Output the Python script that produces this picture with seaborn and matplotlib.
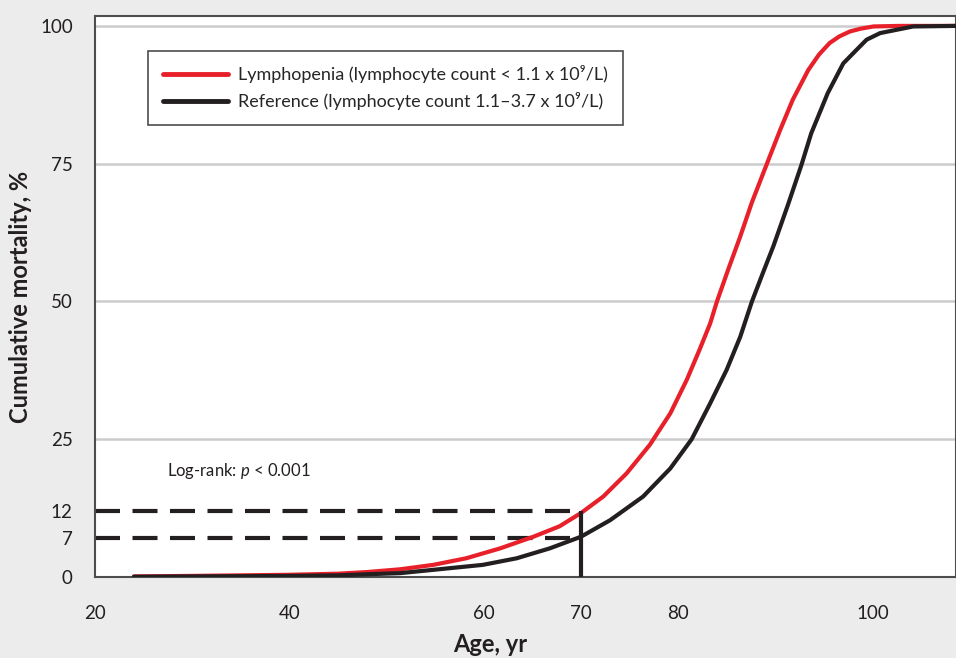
import matplotlib
matplotlib.use("Agg")
import matplotlib.pyplot as plt
import seaborn as sns
import pandas as pd

# cumulative mortality
lympho_age = [24, 30, 35, 40, 45, 48, 51.4, 54.8, 58.2, 61.7, 65.1, 67.8, 70,
              72.3, 74.7, 77.1, 79.2, 80.9, 82.2, 83.3, 84.0, 85.2, 86.4, 87.6,
              89.1, 90.5, 91.8, 93.4, 94.5, 95.6, 96.6, 97.7, 98.8, 100.1, 102.8,
              108.6]
lympho_mort = [0.1, 0.2, 0.3, 0.4, 0.6, 0.9, 1.4, 2.2, 3.4, 5.2, 7.3, 9.2, 11.6,
               14.6, 18.8, 24, 29.7, 35.8, 41.2, 46, 50, 56, 61.8, 68,
               74.8, 81.1, 86.6, 92, 94.8, 96.9, 98.1, 99.0, 99.5, 99.9, 100,
               100]
ref_age = [24, 30, 40, 45, 48, 51.4, 54.8, 59.9, 63.4, 66.8, 70, 73.0, 76.4,
           79.2, 81.4, 83.3, 85.0, 86.4, 87.6, 88.8, 89.8, 91.3, 92.7, 93.7,
           95.4, 97.0, 98.0, 99.4, 100.8, 102.5, 104.2, 108.6]
ref_mort = [0.05, 0.1, 0.2, 0.3, 0.5, 0.7, 1.3, 2.2, 3.4, 5.2, 7.3, 10.3, 14.6,
            19.7, 25, 31.5, 37.6, 43.6, 50, 55.5, 60, 67.5, 74.8, 80.5,
            87.8, 93.2, 95.0, 97.5, 98.7, 99.3, 99.9, 100]

labels = ["Lymphopenia (lymphocyte count < 1.1 x 10\u2079/L)",
          "Reference (lymphocyte count 1.1\u20133.7 x 10\u2079/L)"]
colors = ["#e8202a", "#231f20"]

marker_age = 70
marker_vals = [12, 7]
xticks = [20, 40, 60, 70, 80, 100]
yticks = [0, 7, 12, 25, 50, 75, 100]
grid_vals = [25, 50, 75, 100]

df = pd.concat([
    pd.DataFrame({"age": lympho_age, "mort": lympho_mort, "group": labels[0]}),
    pd.DataFrame({"age": ref_age, "mort": ref_mort, "group": labels[1]}),
])

sns.set_style("white")
plt.rcParams["font.family"] = ["Lato", "DejaVu Sans"]
plt.rcParams["mathtext.fontset"] = "custom"
plt.rcParams["mathtext.rm"] = "Lato"
plt.rcParams["mathtext.it"] = "Lato:italic"

fig = plt.figure(figsize=(9.56, 6.58), dpi=100, facecolor="#ececec")
ax = fig.add_axes([0.0994, 0.1231, 0.9006, 0.8526])
ax.set_facecolor("white")

for v in grid_vals:
    ax.axhline(v, color="#cccccc", lw=1.8, zorder=0)

sns.lineplot(data=df, x="age", y="mort", hue="group", palette=colors,
             estimator=None, sort=False, lw=3, ax=ax, zorder=3)

for v in marker_vals:
    ax.hlines(v, 20, marker_age, colors="#231f20", lw=3, linestyles=(0, (6, 3)), zorder=2)
ax.vlines(marker_age, 0, max(marker_vals), colors="#231f20", lw=3, zorder=4)

ax.set_xlim(20, 108.6)
ax.set_ylim(0, 101.8)
ax.set_xticks(xticks)
ax.set_yticks(yticks)
ax.tick_params(axis="both", direction="out", length=10, width=1.3, color="#4d4d4d",
               labelsize=13.5, labelcolor="#231f20")
ax.tick_params(axis="x", pad=10)
ax.tick_params(axis="y", pad=6)
for s in ax.spines.values():
    s.set_color("#4d4d4d")
    s.set_linewidth(1.5)

ax.set_xlabel("Age, yr", fontsize=17, fontweight="bold", color="#231f20")
ax.set_ylabel("Cumulative mortality, %", fontsize=17, fontweight="bold", color="#231f20")
ax.xaxis.set_label_coords(0.459, -0.1)
ax.yaxis.set_label_coords(-0.073, 0.5)

ax.text(27.4, 18.3, "Log-rank: $p$ < 0.001", fontsize=12, color="#231f20")

leg = ax.legend(loc="upper left", bbox_to_anchor=(0.0616, 0.938), fontsize=13,
                frameon=True, fancybox=False, handlelength=3.6, handletextpad=0.6,
                borderpad=0.8, labelspacing=0.5, borderaxespad=0)
leg.get_frame().set_edgecolor("#231f20")
leg.get_frame().set_linewidth(1.2)
for h in leg.get_lines():
    h.set_linewidth(3.5)

fig.savefig("out.png", dpi=100, facecolor=fig.get_facecolor())
